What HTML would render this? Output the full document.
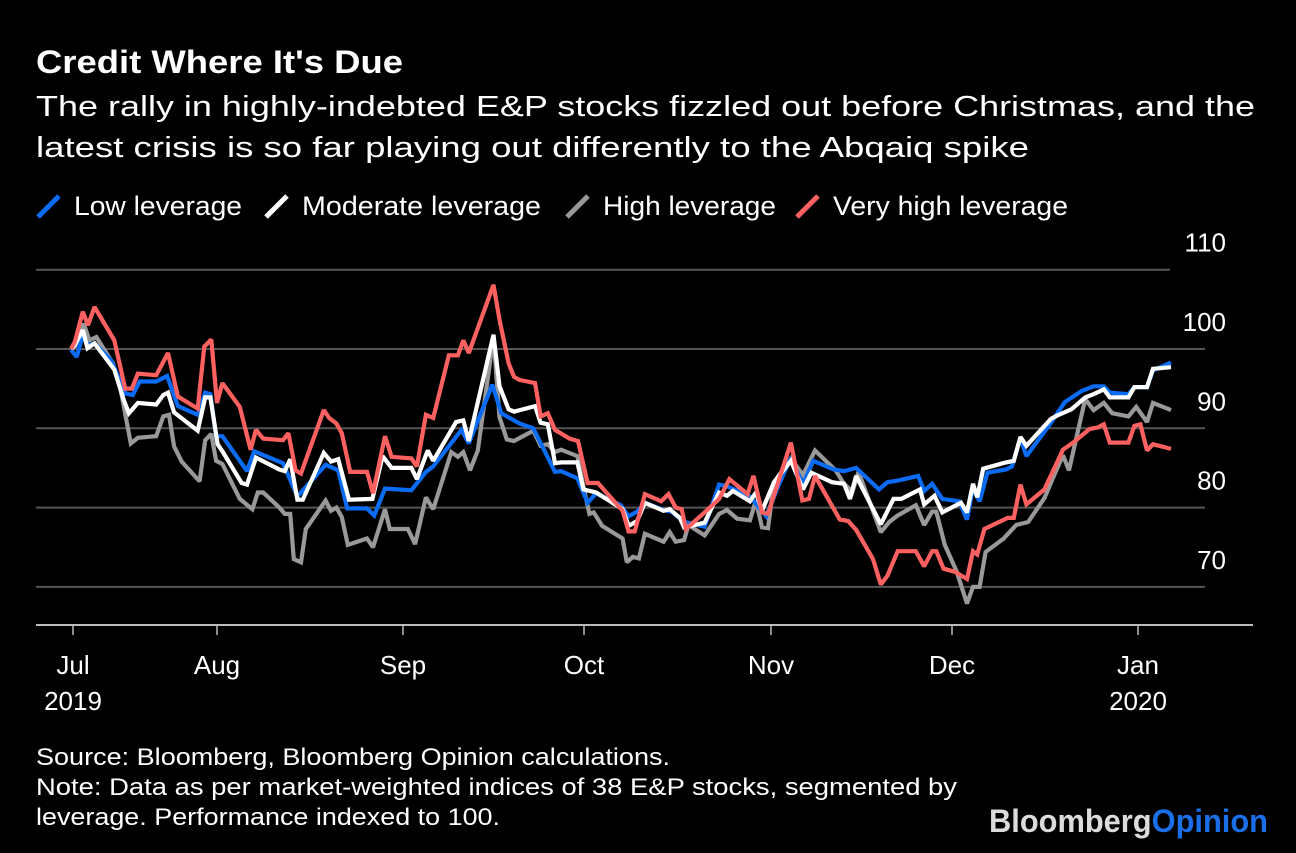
<!DOCTYPE html>
<html><head><meta charset="utf-8">
<style>
html,body{margin:0;padding:0;background:#000;}
body{width:1296px;height:848px;overflow:hidden;font-family:"Liberation Sans",Arial,sans-serif;}
svg text{font-family:"Liberation Sans",Arial,sans-serif;}
</style></head>
<body>
<svg id="chart" width="1296" height="848" viewBox="0 0 1296 848">
<rect x="0" y="0" width="1296" height="848" fill="#000"/>
<text x="36" y="73" fill="#fff" font-size="32" font-weight="bold" textLength="367" lengthAdjust="spacingAndGlyphs">Credit Where It's Due</text>
<text x="36" y="116" fill="#fff" font-size="29" textLength="1219" lengthAdjust="spacingAndGlyphs">The rally in highly-indebted E&amp;P stocks fizzled out before Christmas, and the</text>
<text x="36" y="157" fill="#fff" font-size="29" textLength="993" lengthAdjust="spacingAndGlyphs">latest crisis is so far playing out differently to the Abqaiq spike</text>
<g id="legend"></g>
<g id="grid"></g>
<g id="yaxis"></g>
<g id="xaxis"></g>
<g id="series"></g>
<text x="36" y="765" fill="#fff" font-size="24" textLength="634" lengthAdjust="spacingAndGlyphs">Source: Bloomberg, Bloomberg Opinion calculations.</text>
<text x="36" y="795" fill="#fff" font-size="24" textLength="921" lengthAdjust="spacingAndGlyphs">Note: Data as per market-weighted indices of 38 E&amp;P stocks, segmented by</text>
<text x="36" y="825" fill="#fff" font-size="24" textLength="464" lengthAdjust="spacingAndGlyphs">leverage. Performance indexed to 100.</text>
<text x="989" y="832" font-size="32" font-weight="bold" textLength="279" lengthAdjust="spacingAndGlyphs"><tspan fill="#dcdcdc">Bloomberg</tspan><tspan fill="#1a6fe8">Opinion</tspan></text>
</svg>
<script>
// x values are days since 1 Jul 2019
const monthLabels = ["Jul","Aug","Sep","Oct","Nov","Dec","Jan"];
const yearLabels = ["2019","","","","","","2020"];
const monthStartDays = [0,31,62,92,123,153,184];
const yTicks = [70,80,90,100,110];
const seriesNames = ["Low leverage","Moderate leverage","High leverage","Very high leverage"];

const lowDays = [0,1.2,2.5,3.5,5,8.5,11.5,13.1,14.6,18.1,20.4,22.7,26.9,28.5,29.6,30.8,31.9,36,37.2,42,44.4,49.1,51.2,52.7,56,57.2,59,63.4,65.8,67,71.7,72.9,76.8,78.3,81.3,83.6,87.2,88.2,90.9,92.6,94,98.1,99.4,100.8,102.1,105.2,106.5,108.6,112,114.4,115.7,119.5,122.2,124.2,126.3,128.3,130,133.4,135.1,137.1,140.9,142.3,144,147.4,148.4,149.7,151.4,154.2,155.5,156.5,157.6,158.9,162,163,164.4,165.4,169.5,171.8,174.6,176.6,178.3,179.3,182.4,183.4,185.5,186.5,189.5];
const lowVals = [99.9,99.0,101.8,100.5,100.7,98.6,94.4,94.2,95.9,95.9,96.6,92.8,91.7,94.5,94.3,89.0,89.0,84.6,87.1,85.6,81.4,85.4,84.7,79.9,79.9,79.0,82.4,82.2,84.5,85.2,89.8,88.1,95.5,91.9,90.6,90.0,84.5,84.6,83.7,80.6,81.8,80.3,78.9,79.5,80.6,79.7,79.5,78.2,77.6,82.9,82.7,81.4,78.9,82.7,86.3,82.9,85.9,84.8,84.6,85.0,82.3,83.2,83.4,84.0,82.1,83.0,81.1,80.8,78.5,82.5,80.8,84.4,84.8,85.2,88.8,86.5,90.7,93.3,94.7,95.3,95.3,94.5,94.3,95.2,95.2,97.3,98.3];

const modDays = [0,0.8,2.5,3.5,5,9.2,11.2,12.3,14.2,18.1,19.6,20.6,21.9,26.9,28.5,29.6,31.1,31.9,35.1,36,37.5,41.4,42.3,43.2,44.4,45.3,48.8,50,51.2,53,56.9,58.6,60.1,63.4,64.3,66.1,67,70.8,72,72.9,77,78,79.5,80.4,83.9,84.8,86,87.2,88.2,90.9,91.9,94,98.4,99.4,100.8,102.1,105.2,106.2,107.9,108.6,112,114.4,115.7,116.7,119.5,120.5,121.5,123.5,126.3,128.3,129.7,133.1,135.1,136.1,137.1,141.2,143.3,144.6,147.7,148.4,150.1,151.4,154.5,155.5,156.5,157.2,158.2,162,163.3,164.4,165.4,169.5,170.5,172.9,175.2,176.6,178.3,179.3,182.4,183.4,185.5,186.5,189.5];
const modVals = [100,100.5,102.4,100.1,100.7,97.4,93.6,91.9,93.2,93.0,94.2,94.5,92.0,89.7,93.9,93.9,88.0,87.1,83.1,82.9,86.3,84.8,84.6,86.1,81.0,81.0,86.9,85.8,86.1,81.0,81.1,86.5,85.0,85.0,83.6,87.2,85.9,90.8,91.0,88.4,101.8,95.3,92.4,92.1,92.8,90.7,90.5,85.6,85.7,85.7,82.3,81.9,79.8,77.7,78.3,80.6,79.6,79.8,78.7,77.5,78.1,81.9,81.5,82.1,80.8,81.9,79.6,83.2,85.9,82.3,84.4,83.2,83.0,81.1,84.0,77.9,81.1,81.1,82.3,80.4,81.5,79.4,80.6,79.4,83.0,81.3,84.9,85.7,85.9,88.9,87.8,91.2,91.6,92.4,93.9,94.3,94.9,93.9,93.9,95.2,95.2,97.5,97.7];

const highDays = [0,0.8,2.7,3.9,5.4,8.9,10.4,12.7,14.2,18.1,19.6,20.8,21.9,23.5,27.3,28.5,29.8,30.8,31.9,34.8,36.9,37.8,38.7,41.4,42.3,43.2,43.8,45,45.8,49.1,50,50.9,51.8,52.8,56,57,59,59.8,62.8,64,65.8,67,70,71.1,72,73.1,74.4,77,78,79.2,80.4,83.6,84.8,86,87.2,88.2,90.9,91.9,92.9,93.6,95,98.4,99.1,100.1,101.1,102.1,105.2,106.2,107.2,108.6,109.3,112,114.4,115.7,117.4,119.5,120.5,121.5,122.5,123.5,126.3,128.3,130.3,133.7,135.1,136.5,137.5,141.2,142.6,144,147,148.4,149.7,150.4,151.8,153.8,155.5,156.5,157.6,158.6,161.6,163.7,164.7,165.7,168.4,169.8,171.5,172.5,175.2,176.6,178.3,179.7,182.4,183.7,185.5,186.5,189.5];
const highVals = [100,100.3,103.2,101.1,101.5,98.2,95.3,88.1,88.8,89.0,91.5,91.7,87.7,85.8,83.3,88.5,89.3,85.9,85.5,81.1,79.8,81.9,81.9,80.0,79.2,79.2,73.5,73.1,77.3,80.9,79.6,80.0,78.8,75.3,76.1,75.0,79.8,77.3,77.3,75.4,81.3,79.8,87.0,86.4,87.0,84.7,87.2,101.5,91.4,88.6,88.4,89.7,87.8,88.0,87.0,87.3,86.5,82.7,79.2,79.4,77.7,76.1,73.1,73.8,73.6,76.7,75.7,76.9,75.7,75.9,77.8,76.5,79.2,79.7,78.6,78.4,80.9,77.5,77.4,83.2,86.2,84.1,87.2,84.7,83.0,82.0,84.5,76.9,78.2,79.0,80.3,77.8,79.5,79.5,75.3,71.9,67.9,70.0,70.0,74.4,76.1,77.8,78.0,78.2,81.2,83.7,86.6,84.7,93.7,92.3,93.2,91.9,91.5,92.7,90.8,93.2,92.3];

const vhighDays = [0,0.8,2.5,3.6,5,9.2,11.5,12.9,14.2,18.1,20.6,22.7,26.9,28.3,29.8,31,31.9,34.8,36.6,37.5,38.7,42,42.9,44.1,45,48.8,49.7,50.9,51.8,53.2,56,57,59,60.1,63.4,64.3,65.8,67,69.6,71.1,72,72.9,77,78,79.5,80.4,81.3,83.9,84.8,86,87.2,89.6,91.0,92.6,94.3,98.4,99.4,100.4,102.1,104.8,106,107.2,108.2,108.9,112,114.4,116.1,119.1,120.1,121.5,122.5,126.3,128.2,129.3,130.3,134.4,135.8,137.1,139.9,141.2,142.3,144,147,148.4,149.7,150.4,151.6,153.5,155.5,156.5,157.2,158.4,162.3,163.3,164.4,165.4,168.4,171.5,173.2,175.9,177.3,178.3,179.3,182.4,183.4,184.4,185.5,186.5,189.5];
const vhighVals = [100,100.9,104.7,103.0,105.3,101.1,95.0,95.0,96.9,96.7,99.5,94.0,92.5,100.3,101.2,93.2,95.7,92.7,87.3,89.8,88.7,88.5,89.4,84.7,84.3,92.3,91.3,90.6,89.4,84.5,84.5,81.8,89.0,86.4,86.2,85.2,91.7,91.3,99.2,99.2,101.1,99.5,108.1,103.7,98.2,96.5,96.1,95.7,91.5,91.9,89.8,88.7,88.4,83.1,83.1,79.6,77.0,77.0,81.7,80.8,81.7,80.0,79.8,77.3,79.4,81.1,83.6,81.7,84.0,79.4,79.2,88.2,80.9,81.1,84.0,78.5,78.3,77.2,73.5,70.3,71.4,74.5,74.5,72.6,74.5,74.5,72.3,71.9,71.0,74.5,74.1,77.3,78.7,78.7,82.9,80.4,82.3,87.3,88.2,89.9,90.1,90.5,88.2,88.2,90.3,90.5,87.2,88.0,87.4];

const colors = ["#0a6cf5","#ffffff","#999999","#ff6161"];
const NS = "http://www.w3.org/2000/svg";
const tickPx = [71,217,403,584,771,952,1138];
function xScale(d){
  for(let i=0;i<monthStartDays.length-1;i++){
    if(d<=monthStartDays[i+1]){
      const t=(d-monthStartDays[i])/(monthStartDays[i+1]-monthStartDays[i]);
      return tickPx[i]+t*(tickPx[i+1]-tickPx[i]);
    }
  }
  const n=monthStartDays.length-1;
  return tickPx[n]+(d-monthStartDays[n])*6.0;
}
function yScale(v){ return 349-(v-100)*7.93; }
function mk(tag,attrs,parent){const e=document.createElementNS(NS,tag);for(const k in attrs)e.setAttribute(k,attrs[k]);parent.appendChild(e);return e;}

const grid=document.getElementById('grid'), yaxis=document.getElementById('yaxis'), xaxis=document.getElementById('xaxis');
yTicks.forEach(v=>{
  const y=yScale(v);
  const ln=mk('line',{x1:36,x2:(v===110?1170:1205),y1:y,y2:y,stroke:'#555','stroke-width':2},grid);
  
  
  const tx=mk('text',{x:1226,y:y-18,fill:'#fff','font-size':26,'text-anchor':'end'},yaxis);
  tx.textContent=v;
  
  
});
const base=mk('line',{x1:36,x2:1253,y1:625,y2:625,stroke:'#bbb','stroke-width':2},xaxis);


monthStartDays.forEach((d,i)=>{
  const x=xScale(d)+(i===0?2:0);
  const tk=mk('line',{x1:x,x2:x,y1:625,y2:635,stroke:'#bbb','stroke-width':1.5},xaxis);
  
  
  const t=mk('text',{x:x,y:674,fill:'#fff','font-size':26,'text-anchor':'middle'},xaxis);
  t.textContent=monthLabels[i];
  
  
  if(yearLabels[i]){
    const yt=mk('text',{x:x,y:710,fill:'#fff','font-size':26,'text-anchor':'middle'},xaxis);
    yt.textContent=yearLabels[i];
    
    
  }
});

const series=document.getElementById('series');
const allDays=[lowDays,modDays,highDays,vhighDays], allVals=[lowVals,modVals,highVals,vhighVals];
const order=[2,0,1,3];
order.forEach(i=>{
  const pts=allDays[i].map((d,j)=>xScale(d).toFixed(1)+','+yScale(allVals[i][j]).toFixed(1)).join(' ');
  const pl=mk('polyline',{points:pts,fill:'none',stroke:colors[i],'stroke-width':4.2,'stroke-linejoin':'miter','stroke-miterlimit':2},series);
  
  
});

const legend=document.getElementById('legend');
const legX=[38,266,567,797];
const legW=[168,239,173,235];
seriesNames.forEach((n,i)=>{
  const x=legX[i];
  const sw=mk('line',{x1:x,y1:217,x2:x+21,y2:196,stroke:colors[i],'stroke-width':5},legend);
  
  
  const t=mk('text',{x:x+36,y:215,fill:'#fff','font-size':27,textLength:legW[i],lengthAdjust:'spacingAndGlyphs'},legend);
  t.textContent=n;
  
  
});
</script>
</body></html>
